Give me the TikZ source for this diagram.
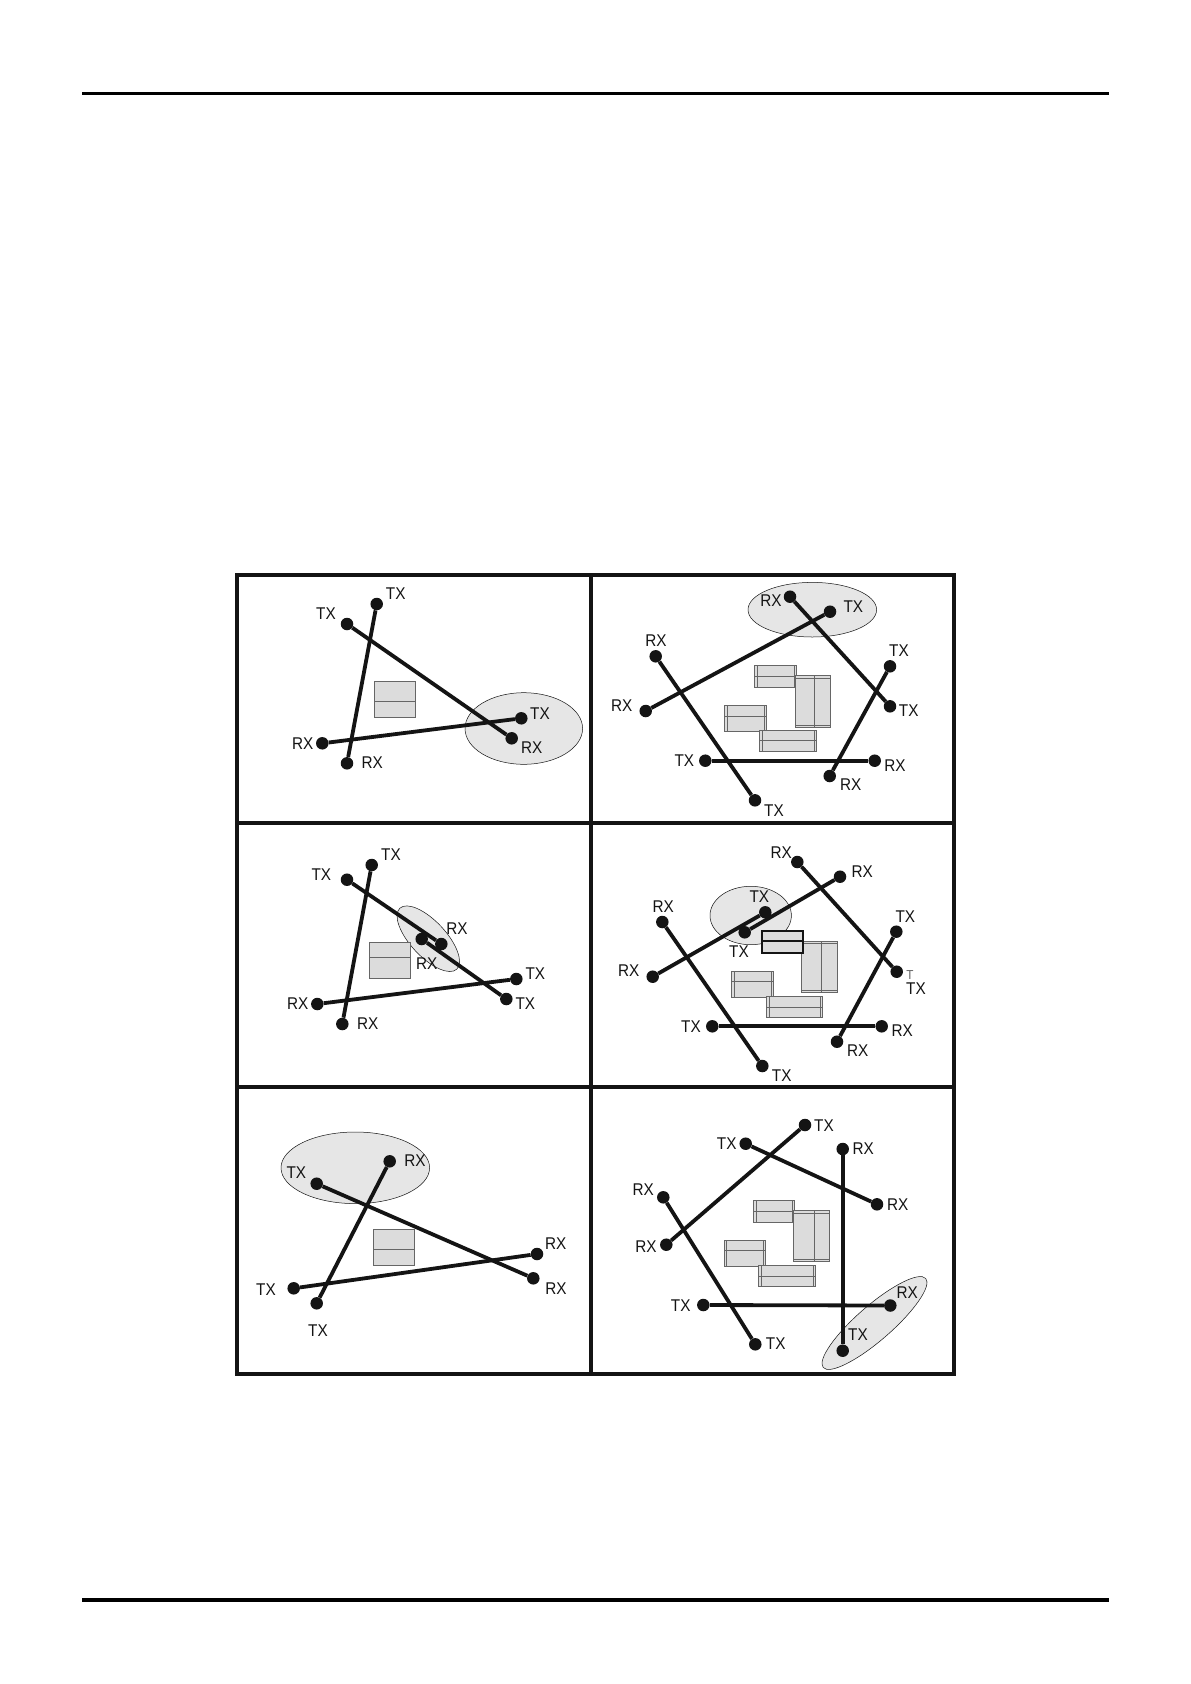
\documentclass[tikz,border=0pt]{standalone}
\usepackage{fontspec}
\setmainfont[FakeStretch=0.9]{Liberation Sans}
\usetikzlibrary{shapes.geometric}
\definecolor{inkblack}{HTML}{141414}
\definecolor{zonegray}{HTML}{E6E6E6}
\definecolor{blockgray}{HTML}{DCDCDC}
\definecolor{blockedge}{HTML}{666666}
\begin{document}
\begin{tikzpicture}[
    x=1pt, y=-1pt,
    every node/.style={font=\fontsize{17}{17}\selectfont, text=inkblack},
    station/.style={circle, fill=inkblack, inner sep=0pt, minimum size=12.5pt},
    lbl/.style={inner sep=0pt},
    link/.style={draw=inkblack, line width=3.8pt},
    zone/.style={ellipse, draw=inkblack, line width=0.5pt, fill=zonegray, inner sep=0pt},
    block/.style={draw=blockedge, line width=0.9pt, fill=blockgray},
    blockline/.style={draw=blockedge, line width=0.9pt},
    heavyblock/.style={draw=inkblack, line width=2pt, fill=blockgray},
    frameline/.style={draw=inkblack, line width=3.8pt},
    pagerule/.style={draw=black, line width=3.2pt}
]
\useasboundingbox (0,0) rectangle (1191,1684);
\fill[white] (0,0) rectangle (1191,1684);

\coordinate (ruleAl) at (82,93.3);
\coordinate (ruleAr) at (1109,93.3);
\coordinate (ruleBl) at (82,1600);
\coordinate (ruleBr) at (1109,1600);
\draw[pagerule] (ruleAl) -- (ruleAr);
\draw[pagerule] (ruleBl) -- (ruleBr);

% shaded zones
\node[zone, minimum width=117.6pt, minimum height=71.6pt] (zoneA) at (523.8,728.5) {};
\node[zone, minimum width=128.6pt, minimum height=54.6pt] (zoneB) at (812.3,609.7) {};
\node[zone, minimum width=83.4pt, minimum height=35.4pt, rotate=-47] (zoneC) at (428.3,938.7) {};
\node[zone, minimum width=81.4pt, minimum height=58.4pt] (zoneD) at (750.7,915.5) {};
\node[zone, minimum width=148.6pt, minimum height=71.6pt] (zoneE) at (355.3,1167.8) {};
\node[zone, minimum width=135.8pt, minimum height=34.8pt, rotate=41] (zoneF) at (874.5,1323) {};

% frame
\draw[frameline] (237,575) rectangle (954,1374);
\draw[frameline] (237,823) -- (954,823);
\draw[frameline] (237,1087) -- (954,1087);
\draw[frameline] (590.7,575) -- (590.7,1374);

% blocks, left column
\draw[block] (374,681.3) rectangle (415.3,717.7);
\draw[blockline] (374,701.7) -- (415.3,701.7);
\draw[block] (369,942.3) rectangle (410.7,978.3);
\draw[blockline] (369,957.7) -- (410.7,957.7);
\draw[block] (373.3,1229.3) rectangle (414.7,1265.3);
\draw[blockline] (373.3,1249.3) -- (414.7,1249.3);

% blocks, top right
\draw[block] (754.7,665.7) rectangle (796,687.3);
\draw[blockline] (754.7,676) -- (796,676) (757,665.7) -- (757,687.3) (794,665.7) -- (794,687.3);
\draw[block] (795.3,675.7) rectangle (830.7,727.3);
\draw[blockline] (814.7,675.7) -- (814.7,727.3) (795.3,678) -- (830.7,678) (795.3,725) -- (830.7,725);
\draw[block] (724.7,705.3) rectangle (766.3,731.3);
\draw[blockline] (724.7,716) -- (766.3,716) (727,705.3) -- (727,731.3) (764,705.3) -- (764,731.3);
\draw[block] (759.7,730.3) rectangle (816.3,751.3);
\draw[blockline] (759.7,740.7) -- (816.3,740.7) (762,730.3) -- (762,751.3) (814,730.3) -- (814,751.3);

% blocks, middle right
\draw[block] (801.7,941.3) rectangle (837.7,992.7);
\draw[blockline] (821.7,941.3) -- (821.7,992.7) (801.7,943.5) -- (837.7,943.5) (801.7,990.5) -- (837.7,990.5);
\draw[block] (731.7,971.3) rectangle (773.3,997.3);
\draw[blockline] (731.7,981.7) -- (773.3,981.7) (734,971.3) -- (734,997.3) (771,971.3) -- (771,997.3);
\draw[block] (766.7,996.3) rectangle (822.7,1017.3);
\draw[blockline] (766.7,1007) -- (822.7,1007) (769,996.3) -- (769,1017.3) (820.5,996.3) -- (820.5,1017.3);
\draw[heavyblock] (762,931) rectangle (802.7,952.7);
\draw[heavyblock] (762,941.3) -- (802.7,941.3);

% blocks, bottom right
\draw[block] (753.7,1200.7) rectangle (794.7,1222);
\draw[blockline] (753.7,1211) -- (794.7,1211) (756,1200.7) -- (756,1222) (792.5,1200.7) -- (792.5,1222);
\draw[block] (793.7,1210.7) rectangle (829.7,1261.7);
\draw[blockline] (814,1210.7) -- (814,1261.7) (793.7,1213) -- (829.7,1213) (793.7,1259.5) -- (829.7,1259.5);
\draw[block] (724,1240.3) rectangle (765.3,1266.3);
\draw[blockline] (724,1250.7) -- (765.3,1250.7) (726.3,1240.3) -- (726.3,1266.3) (763,1240.3) -- (763,1266.3);
\draw[block] (758.7,1265.3) rectangle (815.3,1286.3);
\draw[blockline] (758.7,1276) -- (815.3,1276) (761,1265.3) -- (761,1286.3) (813,1265.3) -- (813,1286.3);

% panel a
\node[station] (a1) at (376.7,604) {};
\node[station] (a2) at (347,624) {};
\node[station] (a3) at (322.3,743.3) {};
\node[station] (a4) at (347,763.3) {};
\node[station] (a5) at (521.3,718.3) {};
\node[station] (a6) at (511.7,738.3) {};
\draw[link] (a1) -- (a4);
\draw[link] (a2) -- (a6);
\draw[link] (a3) -- (a5);
\node[lbl] (la1) at (395.7,594) {TX};
\node[lbl] (la2) at (326,613.7) {TX};
\node[lbl] (la3) at (302.7,743.3) {RX};
\node[lbl] (la4) at (372.3,762.7) {RX};
\node[lbl] (la5) at (540,713.3) {TX};
\node[lbl] (la6) at (531.7,747.7) {RX};

% panel b
\node[station] (b1) at (790,596.7) {};
\node[station] (b2) at (830,611.7) {};
\node[station] (b3) at (655.7,656.3) {};
\node[station] (b4) at (645.7,711) {};
\node[station] (b5) at (890,666.3) {};
\node[station] (b6) at (890,706.3) {};
\node[station] (b7) at (705.3,760.7) {};
\node[station] (b8) at (874.7,760.7) {};
\node[station] (b9) at (829.7,776) {};
\node[station] (b10) at (755,800.3) {};
\draw[link] (b1) -- (b6);
\draw[link] (b2) -- (b4);
\draw[link] (b3) -- (b10);
\draw[link] (b5) -- (b9);
\draw[link] (b7) -- (b8);
\node[lbl] (lb1) at (771,601) {RX};
\node[lbl] (lb2) at (853.3,606.7) {TX};
\node[lbl] (lb3) at (656,641) {RX};
\node[lbl] (lb4) at (621.7,705.7) {RX};
\node[lbl] (lb5) at (899,651) {TX};
\node[lbl] (lb6) at (908.7,710.3) {TX};
\node[lbl] (lb7) at (684.3,760.7) {TX};
\node[lbl] (lb8) at (895,765.3) {RX};
\node[lbl] (lb9) at (850.7,785) {RX};
\node[lbl] (lb10) at (774,810.3) {TX};

% panel c
\node[station] (c1) at (371.7,865) {};
\node[station] (c2) at (347,879.7) {};
\node[station] (c3) at (317.3,1004) {};
\node[station] (c4) at (342.3,1024) {};
\node[station] (c5) at (421.7,939) {};
\node[station] (c6) at (441.3,944) {};
\node[station] (c7) at (516.3,979) {};
\node[station] (c8) at (506.3,999) {};
\draw[link] (c1) -- (c4);
\draw[link] (c2) -- (c6);
\draw[link] (c5) -- (c8);
\draw[link] (c3) -- (c7);
\node[lbl] (lc1) at (391,854.3) {TX};
\node[lbl] (lc2) at (321.3,874.7) {TX};
\node[lbl] (lc3) at (297.7,1003.7) {RX};
\node[lbl] (lc4) at (367.7,1023.7) {RX};
\node[lbl] (lc5) at (426.7,963.3) {RX};
\node[lbl] (lc6) at (457,929) {RX};
\node[lbl] (lc7) at (535.3,973.7) {TX};
\node[lbl] (lc8) at (525.3,1003.3) {TX};

% panel d
\node[station] (d1) at (797.3,862) {};
\node[station] (d2) at (840,876.7) {};
\node[station] (d3) at (662.3,922) {};
\node[station] (d4) at (896.3,931.7) {};
\node[station] (d5) at (652.7,976.7) {};
\node[station] (d6) at (896.7,971.7) {};
\node[station] (d7) at (765.3,912.3) {};
\node[station] (d8) at (744.7,932.3) {};
\node[station] (d9) at (712.3,1026.3) {};
\node[station] (d10) at (881.7,1026.3) {};
\node[station] (d11) at (837,1041.7) {};
\node[station] (d12) at (762.3,1066) {};
\draw[link] (d1) -- (d6);
\draw[link] (d2) -- (d8);
\draw[link] (d7) -- (d5);
\draw[link] (d3) -- (d12);
\draw[link] (d4) -- (d11);
\draw[link] (d9) -- (d10);
\node[lbl] (ld1) at (781.3,852.3) {RX};
\node[lbl] (ld2) at (862.3,871.7) {RX};
\node[lbl] (ld3) at (663.3,906.3) {RX};
\node[lbl] (ld4) at (905.3,916.3) {TX};
\node[lbl] (ld5) at (628.7,971) {RX};
\node[lbl, text=blockedge, font=\fontsize{13}{13}\selectfont] (ld6a) at (910,975) {T};
\node[lbl] (ld6) at (916,989) {TX};
\node[lbl] (ld7) at (759.3,896.3) {TX};
\node[lbl] (ld8) at (739,951.7) {TX};
\node[lbl] (ld9) at (691,1026.3) {TX};
\node[lbl] (ld10) at (902.3,1030.7) {RX};
\node[lbl] (ld11) at (857.7,1051) {RX};
\node[lbl] (ld12) at (781.7,1075.7) {TX};

% panel e
\node[station] (e1) at (389.7,1161.3) {};
\node[station] (e2) at (316.7,1183.7) {};
\node[station] (e3) at (537,1254) {};
\node[station] (e4) at (533.3,1278.3) {};
\node[station] (e5) at (293.7,1288.3) {};
\node[station] (e6) at (316.7,1303.3) {};
\draw[link] (e6) -- (e1);
\draw[link] (e2) -- (e4);
\draw[link] (e5) -- (e3);
\node[lbl] (le1) at (415,1161) {RX};
\node[lbl] (le2) at (296.3,1173) {TX};
\node[lbl] (le3) at (555.7,1244) {RX};
\node[lbl] (le4) at (556,1289) {RX};
\node[lbl] (le5) at (266,1290) {TX};
\node[lbl] (le6) at (318,1330.7) {TX};

% panel f
\node[station] (f1) at (805,1125) {};
\node[station] (f2) at (745.7,1143.7) {};
\node[station] (f3) at (842.7,1149) {};
\node[station] (f4) at (663.3,1197.3) {};
\node[station] (f5) at (877,1204.3) {};
\node[station] (f6) at (666.3,1244.7) {};
\node[station] (f7) at (703.3,1305) {};
\node[station] (f8) at (890.3,1305.5) {};
\node[station] (f9) at (755.3,1344.3) {};
\node[station] (f10) at (842.7,1350.7) {};
\draw[link] (f1) -- (f6);
\draw[link] (f2) -- (f5);
\draw[link] (f3) -- (f10);
\draw[link] (f4) -- (f9);
\draw[link] (f7) -- (f8);
\node[lbl] (lf1) at (824,1125.3) {TX};
\node[lbl] (lf2) at (726.7,1143.3) {TX};
\node[lbl] (lf3) at (863.3,1148.7) {RX};
\node[lbl] (lf4) at (643.3,1189.3) {RX};
\node[lbl] (lf5) at (897.7,1205) {RX};
\node[lbl] (lf6) at (646,1246.3) {RX};
\node[lbl] (lf7) at (680.7,1305.3) {TX};
\node[lbl] (lf8) at (907.3,1292.3) {RX};
\node[lbl] (lf9) at (775.7,1343.7) {TX};
\node[lbl] (lf10) at (858,1334.7) {TX};
\end{tikzpicture}
\end{document}
